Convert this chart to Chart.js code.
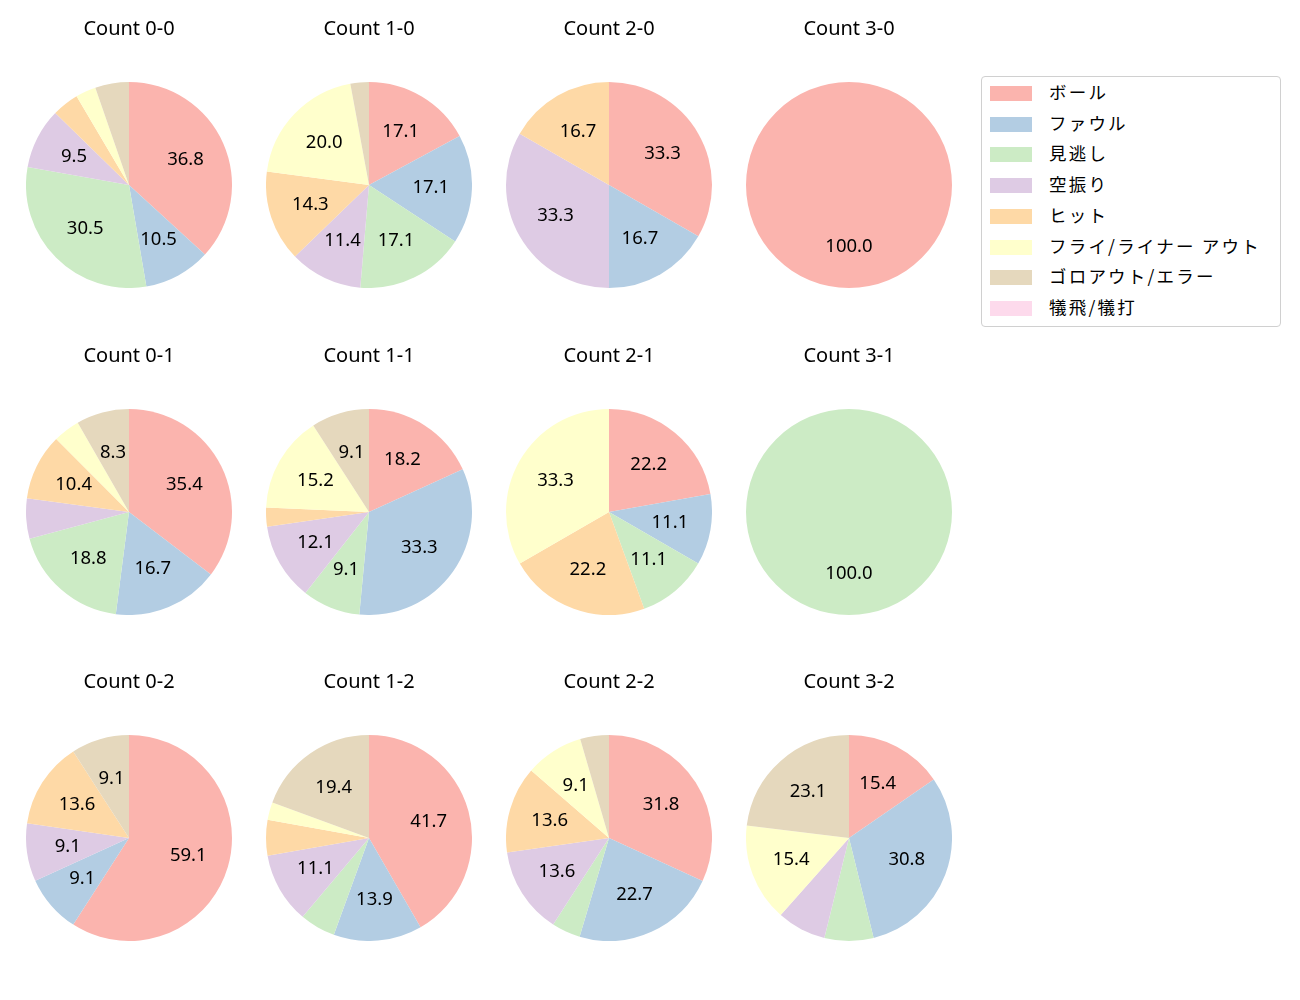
<!DOCTYPE html>
<html>
<head>
<meta charset="utf-8">
<script src="https://cdn.jsdelivr.net/npm/chart.js@4/dist/chart.umd.min.js"></script>
<style>
  body { margin: 0; background: #fff; }
  #wrap { position: relative; width: 1300px; height: 1000px; }
  .pie { position: absolute; }
  #legend {
    position: absolute; left: 981px; top: 76px; width: 298px; height: 249px;
    border: 1px solid #d0d0d0; border-radius: 4px; background: #fff;
    font-family: "Noto Sans CJK JP", "Noto Sans", sans-serif; font-size: 17.5px; color: #000;
  }
  .item { position: absolute; left: 8px; height: 20px; }
  .swatch { position: absolute; left: 0; top: 1px; width: 42px; height: 15px; }
  .lbl { position: absolute; left: 59px; top: -5px; white-space: nowrap; line-height: 24px; letter-spacing: 2.2px; }
</style>
</head>
<body>
<div id="wrap">
  <div id="legend"></div>
</div>
<script>
const categories = ['ボール', 'ファウル', '見逃し', '空振り', 'ヒット', 'フライ/ライナー アウト', 'ゴロアウト/エラー', '犠飛/犠打'];
const colors = ['#fbb4ae', '#b3cde3', '#ccebc5', '#decbe4', '#fed9a6', '#ffffcc', '#e5d8bd', '#fddaec'];
const countLabels = ['0-0', '1-0', '2-0', '3-0', '0-1', '1-1', '2-1', '3-1', '0-2', '1-2', '2-2', '3-2'];

// percentages per pitch count, in category order
const c00 = [36.8, 10.5, 30.5, 9.5, 4.2, 3.2, 5.3, 0];
const c10 = [17.1, 17.1, 17.1, 11.4, 14.3, 20.0, 2.9, 0];
const c20 = [33.3, 16.7, 0, 33.3, 16.7, 0, 0, 0];
const c30 = [100, 0, 0, 0, 0, 0, 0, 0];
const c01 = [35.4, 16.7, 18.8, 6.3, 10.4, 4.2, 8.3, 0];
const c11 = [18.2, 33.3, 9.1, 12.1, 3.0, 15.2, 9.1, 0];
const c21 = [22.2, 11.1, 11.1, 0, 22.2, 33.3, 0, 0];
const c31 = [0, 0, 100, 0, 0, 0, 0, 0];
const c02 = [59.1, 9.1, 0, 9.1, 13.6, 0, 9.1, 0];
const c12 = [41.7, 13.9, 5.6, 11.1, 5.6, 2.8, 19.4, 0];
const c22 = [31.8, 22.7, 4.5, 13.6, 13.6, 9.1, 4.5, 0];
const c32 = [15.4, 30.8, 7.7, 7.7, 0, 15.4, 23.1, 0];
const series = [c00, c10, c20, c30, c01, c11, c21, c31, c02, c12, c22, c32];

const fontFamily = '"Noto Sans", "Noto Sans CJK JP", sans-serif';

// percentage text inside each slice (like autopct), hidden for small slices
const pctLabels = {
  id: 'pctLabels',
  afterDatasetsDraw(chart) {
    const ctx = chart.ctx;
    const ds = chart.data.datasets[0];
    chart.getDatasetMeta(0).data.forEach((arc, i) => {
      const v = ds.data[i];
      if (v < 8) return;
      const p = arc.getProps(['x', 'y', 'startAngle', 'endAngle', 'outerRadius'], true);
      const mid = (p.startAngle + p.endAngle) / 2;
      const r = p.outerRadius * 0.6;
      ctx.save();
      ctx.fillStyle = '#000';
      ctx.font = '18.5px ' + fontFamily;
      ctx.textAlign = 'center';
      ctx.textBaseline = 'middle';
      ctx.fillText(v.toFixed(1), p.x + Math.cos(mid) * r, p.y + Math.sin(mid) * r);
      ctx.restore();
    });
  }
};

const wrap = document.getElementById('wrap');
const colX = [129, 369, 609, 849];
const rowTop = [0, 327, 653];

series.forEach((vals, k) => {
  const col = k % 4, row = Math.floor(k / 4);
  const div = document.createElement('div');
  div.className = 'pie';
  div.style.left = (colX[col] - 103) + 'px';
  div.style.top = rowTop[row] + 'px';
  const canvas = document.createElement('canvas');
  canvas.width = 206;
  canvas.height = 288;
  div.appendChild(canvas);
  wrap.appendChild(div);

  new Chart(canvas.getContext('2d'), {
    type: 'pie',
    data: {
      labels: categories,
      datasets: [{
        data: vals,
        backgroundColor: colors,
        borderWidth: 0
      }]
    },
    options: {
      responsive: false,
      animation: false,
      layout: { padding: 0 },
      plugins: {
        legend: { display: false },
        tooltip: { enabled: false },
        title: {
          display: true,
          text: 'Count ' + countLabels[k],
          color: '#000',
          font: { family: fontFamily, size: 20, weight: 'normal', lineHeight: 1.2 },
          padding: { top: 17, bottom: 41 }
        }
      }
    },
    plugins: [pctLabels]
  });
});

const legend = document.getElementById('legend');
categories.forEach((c, i) => {
  const it = document.createElement('div');
  it.className = 'item';
  it.style.top = (8 + i * 30.7) + 'px';
  it.innerHTML = '<div class="swatch" style="background:' + colors[i] + '"></div><div class="lbl">' + c + '</div>';
  legend.appendChild(it);
});
</script>
</body>
</html>
